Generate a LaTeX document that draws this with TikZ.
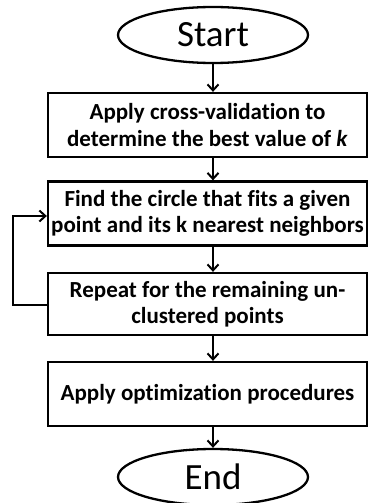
\documentclass[tikz,border=0pt]{standalone}
\usepackage{fontspec}
\setmainfont[Ligatures=CommonOff]{Carlito}
\usetikzlibrary{shapes.geometric,arrows.meta}
\begin{document}
\begin{tikzpicture}[x=1pt,y=-1pt,
  lw/.style={line width=2.3pt},
  stepbox/.style={lw,draw,rectangle,minimum width=319pt,inner sep=0pt,
    font=\fontsize{23}{26.5}\selectfont\bfseries,align=center},
  term/.style={lw,draw,ellipse,minimum width=190pt,minimum height=56pt,inner sep=0pt,
    font=\fontsize{37}{40}\selectfont},
  flow/.style={lw,-{Straight Barb[length=6pt,width=11pt,line width=2pt]}}]
\useasboundingbox (0,0) rectangle (369,503);
\node[term] (start) at (213,35) {Start};
\node[stepbox,minimum height=64pt] (b1) at (207.5,125) {Apply cross-validation to\\determine the best value of \textit{k}};
\node[stepbox,minimum height=64pt] (b2) at (207.5,213.5) {Find the circle that fits a given\\point and its k nearest neighbors};
\node[stepbox,minimum height=62pt] (b3) at (207.5,304) {Repeat for the remaining un-\\clustered points};
\node[stepbox,minimum height=64pt] (b4) at (207.5,394) {Apply optimization procedures};
\node[term] (end) at (213,477) {End};
\coordinate (c1) at (13,305);
\coordinate (c2) at (13,216);
\draw[flow] (start.south) -- (start.south |- b1.north);
\draw[flow] (b1.south -| start.south) -- (b2.north -| start.south);
\draw[flow] (b2.south -| start.south) -- (b3.north -| start.south);
\draw[flow] (b3.south -| start.south) -- (b4.north -| start.south);
\draw[flow] (b4.south -| start.south) -- (end.north);
\draw[flow] (b3.west |- c1) -- (c1) -- (c2) -- (b2.west |- c2);
\end{tikzpicture}
\end{document}
